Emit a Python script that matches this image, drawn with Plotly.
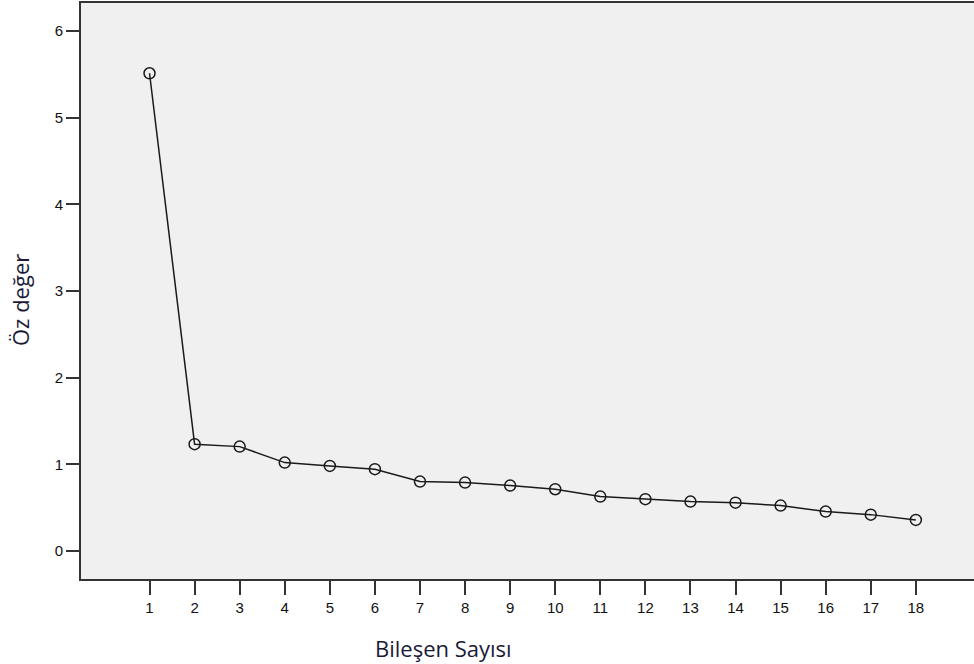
import plotly.graph_objects as go

components = list(range(1, 19))
eigenvalues = [5.51, 1.234, 1.206, 1.022, 0.984, 0.946, 0.803, 0.791, 0.757, 0.715,
               0.63, 0.60, 0.572, 0.56, 0.526, 0.457, 0.422, 0.361]
x_title = "Bileşen Sayısı"
y_title = "Öz değer"

W, H = 974, 664
L, R, T, B = 81, 0, 3, 85
pw, ph = W - L - R, H - T - B

fig = go.Figure()
fig.add_trace(go.Scatter(
    x=components, y=eigenvalues, mode="lines+markers",
    line=dict(color="#1a1a1a", width=1.5),
    marker=dict(symbol="circle-open", size=11, color="#1a1a1a", line=dict(width=1.5)),
    showlegend=False, hoverinfo="skip"))

axis_font = dict(family="Liberation Sans, Arial, sans-serif", size=15, color="#111111")
fig.update_layout(
    width=W, height=H,
    margin=dict(l=L, r=R, t=T, b=B),
    paper_bgcolor="white", plot_bgcolor="#F0F0F0",
    xaxis=dict(range=[-0.52, 19.29], tickvals=components, ticktext=[str(c) for c in components],
               showgrid=False, zeroline=False, showline=True, linecolor="#333333", linewidth=2,
               mirror=True, ticks="outside", ticklen=14, tickwidth=2, tickcolor="#333333",
               tickfont=axis_font),
    yaxis=dict(range=[-0.32, 6.32], tickvals=[0, 1, 2, 3, 4, 5, 6],
               showgrid=False, zeroline=False, showline=True, linecolor="#333333", linewidth=2,
               ticks="outside", ticklen=13, tickwidth=2, tickcolor="#333333",
               tickfont=axis_font),
)

title_font = dict(family="Open Sans, Noto Sans, sans-serif", size=22, color="#1a1a38")
fig.add_annotation(text=x_title, xref="paper", yref="paper",
                   x=(443 - L) / pw, y=(H - B - 648) / ph,
                   xanchor="center", yanchor="middle", showarrow=False, font=title_font)
fig.add_annotation(text=y_title, xref="paper", yref="paper",
                   x=(20 - L) / pw, y=(H - B - 300) / ph, textangle=-90,
                   xanchor="center", yanchor="middle", showarrow=False, font=title_font)

fig.write_html("out.html", config={"displayModeBar": False},
               post_script="document.body.style.margin='0';document.body.style.overflow='hidden';")
